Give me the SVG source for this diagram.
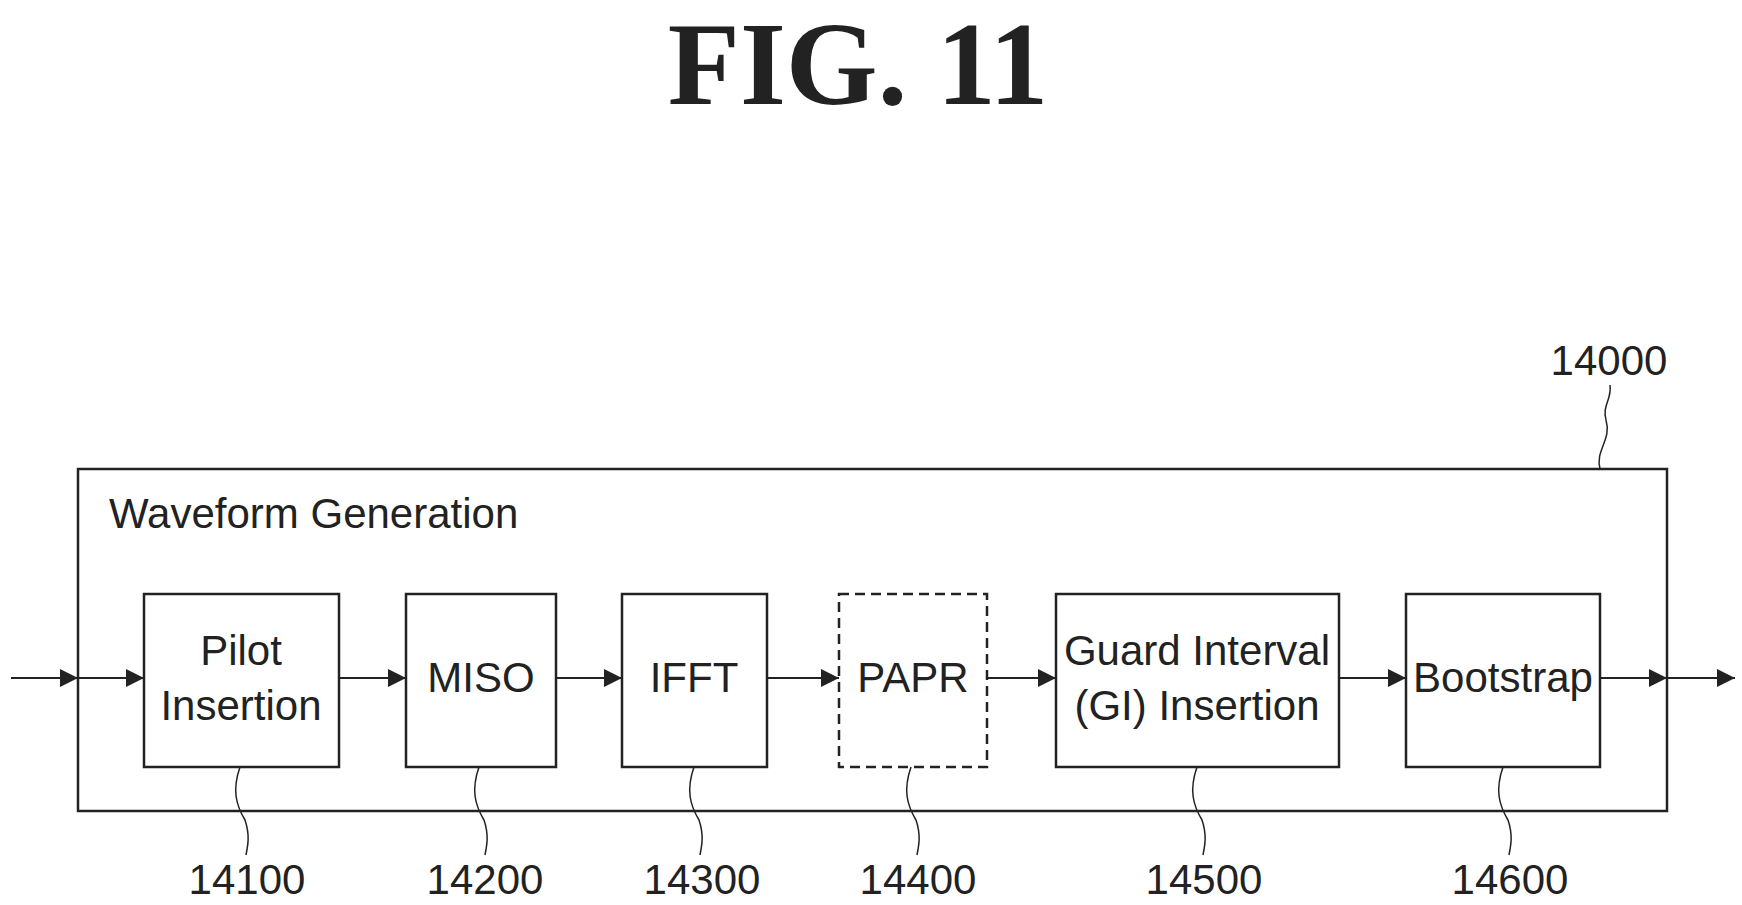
<svg xmlns="http://www.w3.org/2000/svg" width="1742" height="905" viewBox="0 0 1742 905">
<defs>
<marker id="ah" viewBox="0 0 10 10" refX="10" refY="5" markerWidth="26" markerHeight="18" markerUnits="userSpaceOnUse" orient="auto"><path d="M0,0 L10,5 L0,10 Z" fill="#222"/></marker>
</defs>
<style>
.b{fill:#fff;stroke:#222;stroke-width:2.5}
.d{stroke-dasharray:10,6}
.t{font-family:"Liberation Sans",Arial,sans-serif;font-size:42px;fill:#222;text-anchor:middle}
.c{stroke:#222;stroke-width:2;fill:none}
.l{stroke:#222;stroke-width:1.5;fill:none}
</style>
<rect width="1742" height="905" fill="#fff"/>
<text x="858" y="104" font-family="Liberation Serif,serif" font-size="118" font-weight="bold" text-anchor="middle" fill="#222">FIG. 11</text>
<g id="n14000">
<rect class="b" x="78" y="469" width="1589" height="342"/>
<text class="t" x="109" y="528" style="text-anchor:start">Waveform Generation</text>
<text class="t" x="1609" y="375">14000</text>
<path class="l" d="M1600,469 C1595,450 1612,440 1606,420 C1602,405 1612,400 1610,385"/>
</g>
<g id="n14100"><rect class="b" x="144" y="594" width="195" height="173"/><text class="t" x="241" y="665">Pilot</text><text class="t" x="241" y="720">Insertion</text><text class="t" x="247" y="894">14100</text><path class="l" d="M240,767 C232,790 236,805 245,820 C250,835 248,845 246,855"/></g>
<g id="n14200"><rect class="b" x="406" y="594" width="150" height="173"/><text class="t" x="481" y="692">MISO</text><text class="t" x="485" y="894">14200</text><path class="l" d="M479,767 C471,790 475,805 484,820 C489,835 487,845 485,855"/></g>
<g id="n14300"><rect class="b" x="622" y="594" width="145" height="173"/><text class="t" x="694" y="692">IFFT</text><text class="t" x="702" y="894">14300</text><path class="l" d="M694,767 C686,790 690,805 699,820 C704,835 702,845 700,855"/></g>
<g id="n14400"><rect class="b d" x="839" y="594" width="148" height="173"/><text class="t" x="913" y="692">PAPR</text><text class="t" x="918" y="894">14400</text><path class="l" d="M911,767 C903,790 907,805 916,820 C921,835 919,845 917,855"/></g>
<g id="n14500"><rect class="b" x="1056" y="594" width="283" height="173"/><text class="t" x="1197" y="665">Guard Interval</text><text class="t" x="1197" y="720">(GI) Insertion</text><text class="t" x="1204" y="894">14500</text><path class="l" d="M1197,767 C1189,790 1193,805 1202,820 C1207,835 1205,845 1203,855"/></g>
<g id="n14600"><rect class="b" x="1406" y="594" width="194" height="173"/><text class="t" x="1503" y="692">Bootstrap</text><text class="t" x="1510" y="894">14600</text><path class="l" d="M1503,767 C1495,790 1499,805 1508,820 C1513,835 1511,845 1509,855"/></g>
<g id="connectors">
<line class="c" x1="11" y1="678" x2="78" y2="678" marker-end="url(#ah)"/>
<line class="c" x1="78" y1="678" x2="144" y2="678" marker-end="url(#ah)"/>
<line class="c" x1="339" y1="678" x2="406" y2="678" marker-end="url(#ah)"/>
<line class="c" x1="556" y1="678" x2="622" y2="678" marker-end="url(#ah)"/>
<line class="c" x1="767" y1="678" x2="839" y2="678" marker-end="url(#ah)"/>
<line class="c" x1="987" y1="678" x2="1056" y2="678" marker-end="url(#ah)"/>
<line class="c" x1="1339" y1="678" x2="1406" y2="678" marker-end="url(#ah)"/>
<line class="c" x1="1600" y1="678" x2="1667" y2="678" marker-end="url(#ah)"/>
<line class="c" x1="1667" y1="678" x2="1735" y2="678" marker-end="url(#ah)"/>
</g>
</svg>
